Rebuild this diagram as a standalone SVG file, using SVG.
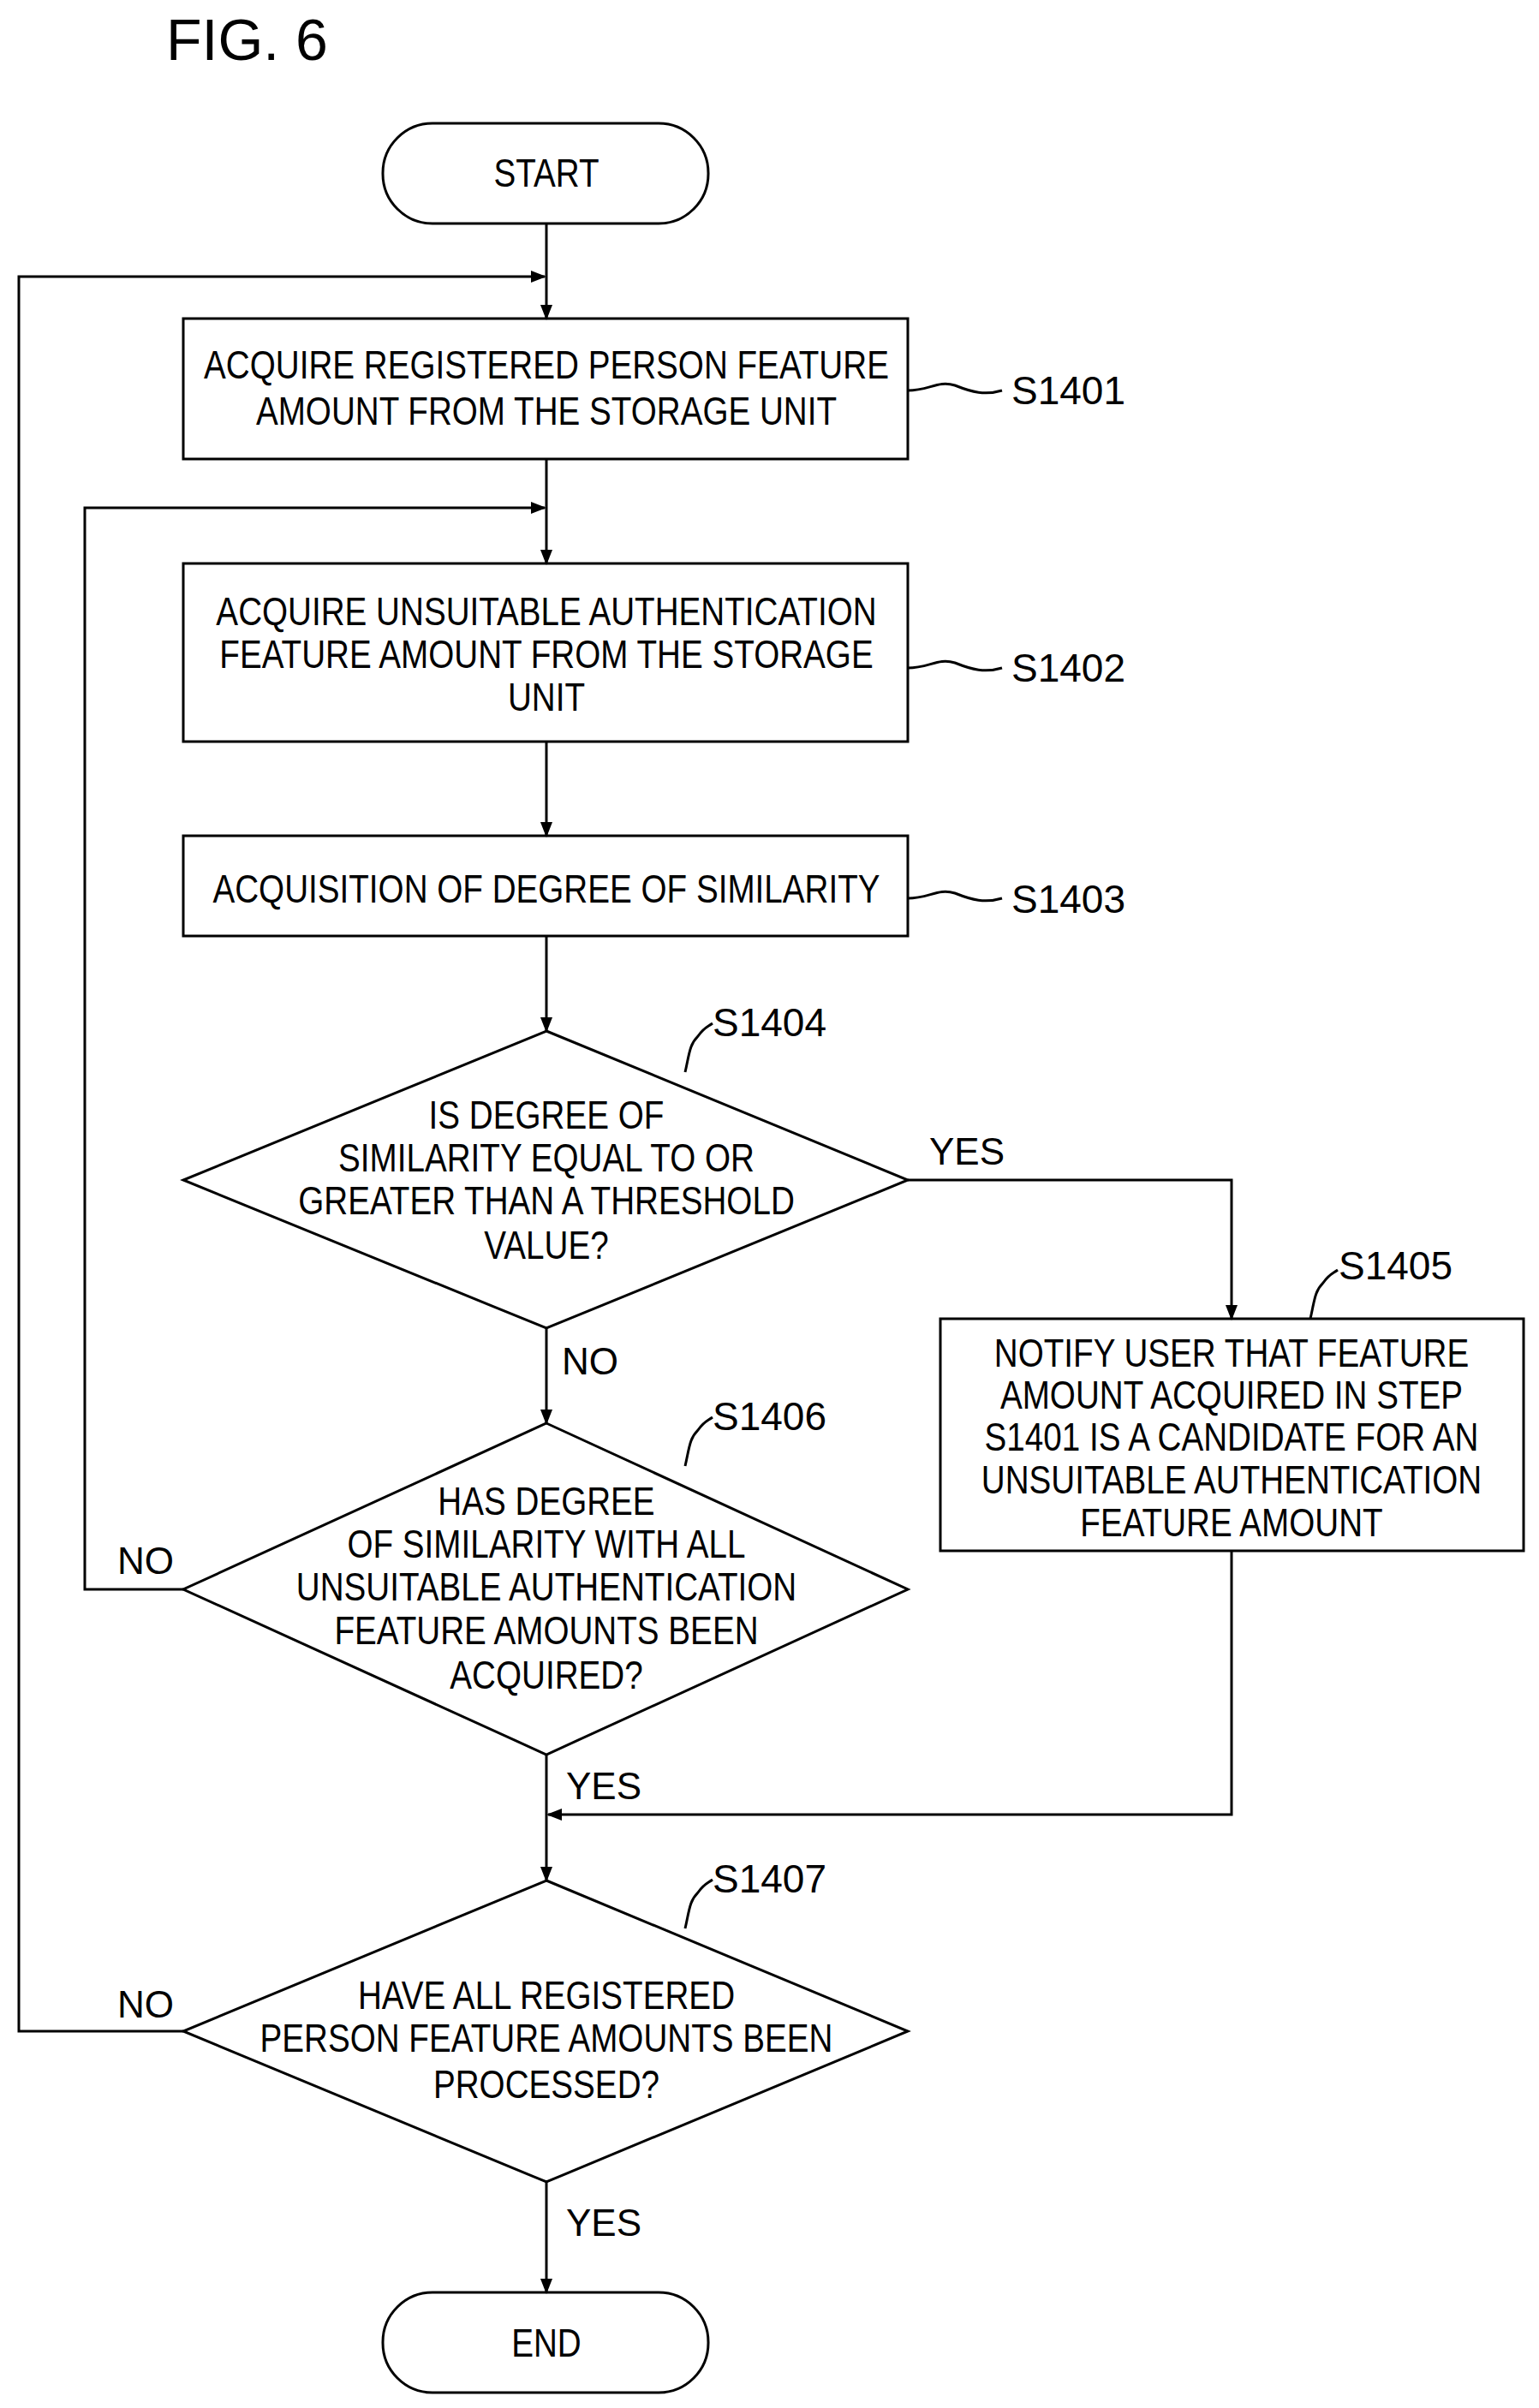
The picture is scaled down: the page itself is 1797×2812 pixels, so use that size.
<svg xmlns="http://www.w3.org/2000/svg" width="1797" height="2812" viewBox="0 0 1797 2812">
<style>
text{font-family:"Liberation Sans",Arial,sans-serif;fill:#000}
.t{font-size:46px;text-anchor:middle;transform-box:fill-box;transform-origin:center;transform:scaleX(0.84)}
.l{font-size:46px}
.s{fill:none;stroke:#000;stroke-width:3}
</style>
<defs><marker id="a" markerWidth="18" markerHeight="18" refX="16" refY="9" orient="auto" markerUnits="userSpaceOnUse" viewBox="0 0 18 18"><path d="M0,2 L18,9 L0,16 Z" fill="#000"/></marker></defs>
<rect width="1797" height="2812" fill="#fff"/>
<text x="194" y="70" style="font-size:68px">FIG. 6</text>
<g id="connectors" class="s">
<path d="M638,261 V372" marker-end="url(#a)"/>
<path d="M638,536 V658" marker-end="url(#a)"/>
<path d="M638,866 V976" marker-end="url(#a)"/>
<path d="M638,1093 V1204" marker-end="url(#a)"/>
<path d="M638,1551 V1662" marker-end="url(#a)"/>
<path d="M638,2049 V2196" marker-end="url(#a)"/>
<path d="M638,2548 V2677" marker-end="url(#a)"/>
<path d="M1060,1378 H1438 V1540" marker-end="url(#a)"/>
<path d="M1438,1811 V2119 H640" marker-end="url(#a)"/>
<path d="M214,1856 H99 V593 H636" marker-end="url(#a)"/>
<path d="M214,2372 H22 V323 H636" marker-end="url(#a)"/>
<path d="M1060,456 C1085,456 1095,444 1115,450 C1135,458 1150,462 1170,456"/>
<path d="M1060,780 C1085,780 1095,768 1115,774 C1135,782 1150,786 1170,780"/>
<path d="M1060,1049 C1085,1049 1095,1037 1115,1043 C1135,1051 1150,1055 1170,1049"/>
<path d="M800,1252 C805,1230 805,1220 815,1210 C822,1200 825,1200 832,1195"/>
<path d="M1530,1540 C1535,1518 1535,1508 1545,1498 C1552,1488 1555,1488 1562,1483"/>
<path d="M800,1712 C805,1690 805,1680 815,1670 C822,1660 825,1660 832,1655"/>
<path d="M800,2252 C805,2230 805,2220 815,2210 C822,2200 825,2200 832,2195"/>
</g>
<g class="l">
<text x="1181" y="472">S1401</text>
<text x="1181" y="796">S1402</text>
<text x="1181" y="1066">S1403</text>
<text x="832" y="1210">S1404</text>
<text x="1563" y="1494">S1405</text>
<text x="832" y="1670">S1406</text>
<text x="832" y="2210">S1407</text>
<text x="1085" y="1360" style="font-size:44px">YES</text>
<text x="656" y="1605" style="font-size:44px">NO</text>
<text x="137" y="1838" style="font-size:44px">NO</text>
<text x="661" y="2101" style="font-size:44px">YES</text>
<text x="137" y="2356" style="font-size:44px">NO</text>
<text x="661" y="2611" style="font-size:44px">YES</text>
</g>
<g id="start"><rect x="447" y="144" width="380" height="117" rx="58" class="s"/><text class="t" x="638" y="218">START</text></g>
<g id="s1401"><rect x="214" y="372" width="846" height="164" class="s"/><text class="t" x="638" y="442">ACQUIRE REGISTERED PERSON FEATURE</text><text class="t" x="638" y="496">AMOUNT FROM THE STORAGE UNIT</text></g>
<g id="s1402"><rect x="214" y="658" width="846" height="208" class="s"/><text class="t" x="638" y="730">ACQUIRE UNSUITABLE AUTHENTICATION</text><text class="t" x="638" y="780">FEATURE AMOUNT FROM THE STORAGE</text><text class="t" x="638" y="830">UNIT</text></g>
<g id="s1403"><rect x="214" y="976" width="846" height="117" class="s"/><text class="t" x="638" y="1054">ACQUISITION OF DEGREE OF SIMILARITY</text></g>
<g id="s1404"><path d="M638,1204 L1060,1378 L638,1551 L214,1378 Z" class="s"/><text class="t" x="638" y="1318">IS DEGREE OF</text><text class="t" x="638" y="1368">SIMILARITY EQUAL TO OR</text><text class="t" x="638" y="1418">GREATER THAN A THRESHOLD</text><text class="t" x="638" y="1470">VALUE?</text></g>
<g id="s1405"><rect x="1098" y="1540" width="681" height="271" class="s"/><text class="t" x="1438" y="1596">NOTIFY USER THAT FEATURE</text><text class="t" x="1438" y="1645">AMOUNT ACQUIRED IN STEP</text><text class="t" x="1438" y="1694">S1401 IS A CANDIDATE FOR AN</text><text class="t" x="1438" y="1744">UNSUITABLE AUTHENTICATION</text><text class="t" x="1438" y="1794">FEATURE AMOUNT</text></g>
<g id="s1406"><path d="M638,1662 L1060,1856 L638,2049 L214,1856 Z" class="s"/><text class="t" x="638" y="1769">HAS DEGREE</text><text class="t" x="638" y="1819">OF SIMILARITY WITH ALL</text><text class="t" x="638" y="1869">UNSUITABLE AUTHENTICATION</text><text class="t" x="638" y="1920">FEATURE AMOUNTS BEEN</text><text class="t" x="638" y="1972">ACQUIRED?</text></g>
<g id="s1407"><path d="M638,2196 L1060,2372 L638,2548 L214,2372 Z" class="s"/><text class="t" x="638" y="2346">HAVE ALL REGISTERED</text><text class="t" x="638" y="2396">PERSON FEATURE AMOUNTS BEEN</text><text class="t" x="638" y="2450">PROCESSED?</text></g>
<g id="end"><rect x="447" y="2677" width="380" height="117" rx="58" class="s"/><text class="t" x="638" y="2752">END</text></g>
</svg>
